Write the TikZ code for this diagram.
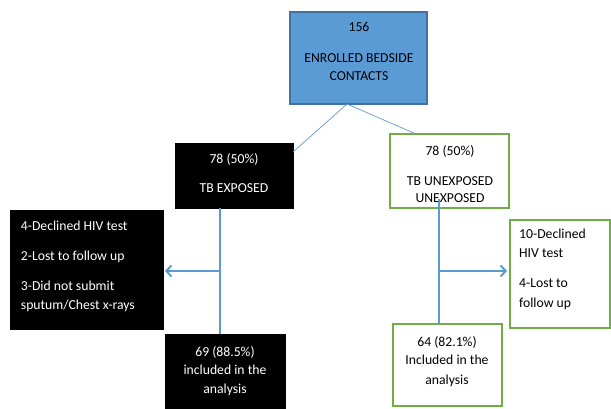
\documentclass[tikz,border=0pt]{standalone}
\usepackage{fontspec}
\setmainfont{Carlito}
\usetikzlibrary{arrows.meta}
\definecolor{offblue}{HTML}{5B9BD5}
\definecolor{offblued}{HTML}{41719C}
\definecolor{offgreen}{HTML}{70AD47}
\begin{document}
\begin{tikzpicture}[x=1pt,y=-1pt,
  box/.style={rectangle, inner sep=0pt, outer sep=0pt},
  bluebox/.style={box, fill=offblue, draw=offblued, line width=1.2pt},
  blackbox/.style={box, fill=black, draw=black},
  greenbox/.style={box, fill=white, draw=offgreen, line width=1.4pt},
  txt/.style={inner sep=0pt, font=\fontsize{13.7}{16}\selectfont, anchor=base},
  wtxt/.style={txt, text=white},
  ltxt/.style={txt, anchor=base west},
  wltxt/.style={ltxt, text=white},
  thinline/.style={draw=offblue, line width=0.7pt},
  thickline/.style={draw=offblue, line width=2pt},
  arr/.style={thickline, -{Straight Barb[length=5pt,width=11pt]}}
]
\useasboundingbox (0,0) rectangle (611,409);
\fill[white] (0,0) rectangle (611,409);

% boxes
\node[bluebox, minimum width=137pt, minimum height=92pt] (top) at (358.5,58) {};
\node[blackbox, minimum width=118pt, minimum height=65pt] (exp) at (234,175.5) {};
\node[greenbox, minimum width=119pt, minimum height=74pt] (unexp) at (449.5,171) {};
\node[blackbox, minimum width=153pt, minimum height=119pt] (leftbox) at (86.5,269.5) {};
\node[greenbox, minimum width=100pt, minimum height=108pt] (rightbox) at (560,274) {};
\node[blackbox, minimum width=120pt, minimum height=78pt] (botL) at (225,373) {};
\node[greenbox, minimum width=109pt, minimum height=82pt] (botR) at (447.5,365) {};

% texts
\node[txt] (t1) at (359,31.4) {156};
\node[txt] (t2) at (359,62.4) {ENROLLED BEDSIDE};
\node[txt] (t3) at (359,80.4) {CONTACTS};

\node[wtxt] (e1) at (234,163.4) {78 (50\%)};
\node[wtxt] (e2) at (234,192.4) {TB EXPOSED};

\node[txt] (u1) at (450,155.4) {78 (50\%)};
\node[txt] (u2) at (450,185.4) {TB UNEXPOSED};
\node[txt] (u3) at (450,202.4) {UNEXPOSED};

\node[wltxt] (l1) at (20.7,230.4) {4-Declined HIV test};
\node[wltxt] (l2) at (20.7,260.4) {2-Lost to follow up};
\node[wltxt] (l3) at (20.7,290.4) {3-Did not submit};
\node[wltxt] (l4) at (20.7,309.4) {sputum/Chest x-rays};

\node[ltxt] (r1) at (519,238.4) {10-Declined};
\node[ltxt] (r2) at (519,257.4) {HIV test};
\node[ltxt] (r3) at (519,287.4) {4-Lost to};
\node[ltxt] (r4) at (519,307.4) {follow up};

\node[wtxt] (b1) at (225,356.4) {69 (88.5\%)};
\node[wtxt] (b2) at (225,374.4) {included in the};
\node[wtxt] (b3) at (225,393.4) {analysis};

\node[txt] (g1) at (447,346.4) {64 (82.1\%)};
\node[txt] (g2) at (447,364.4) {Included in the};
\node[txt] (g3) at (447,384.4) {analysis};

% connectors
\coordinate (ts) at ([xshift=-11.5pt]top.south);
\draw[thinline] (ts) -- ([yshift=23.5pt]exp.east);
\draw[thinline] (ts) -- ([xshift=26pt]unexp.north west);

\coordinate (lj) at ([xshift=-14pt]exp.south);
\coordinate (la) at ([yshift=-1.5pt]leftbox.east);
\draw[thickline] (lj) -- (lj |- botL.north);
\draw[arr, shorten >=2pt] (lj |- la) -- (la);

\coordinate (rj) at ([xshift=-10.5pt,yshift=9pt]unexp.south);
\coordinate (ra) at ([yshift=3pt]rightbox.west);
\draw[thickline] (rj) -- (rj |- botR.north);
\draw[arr, shorten >=3pt] (rj |- ra) -- (ra);
\end{tikzpicture}
\end{document}
